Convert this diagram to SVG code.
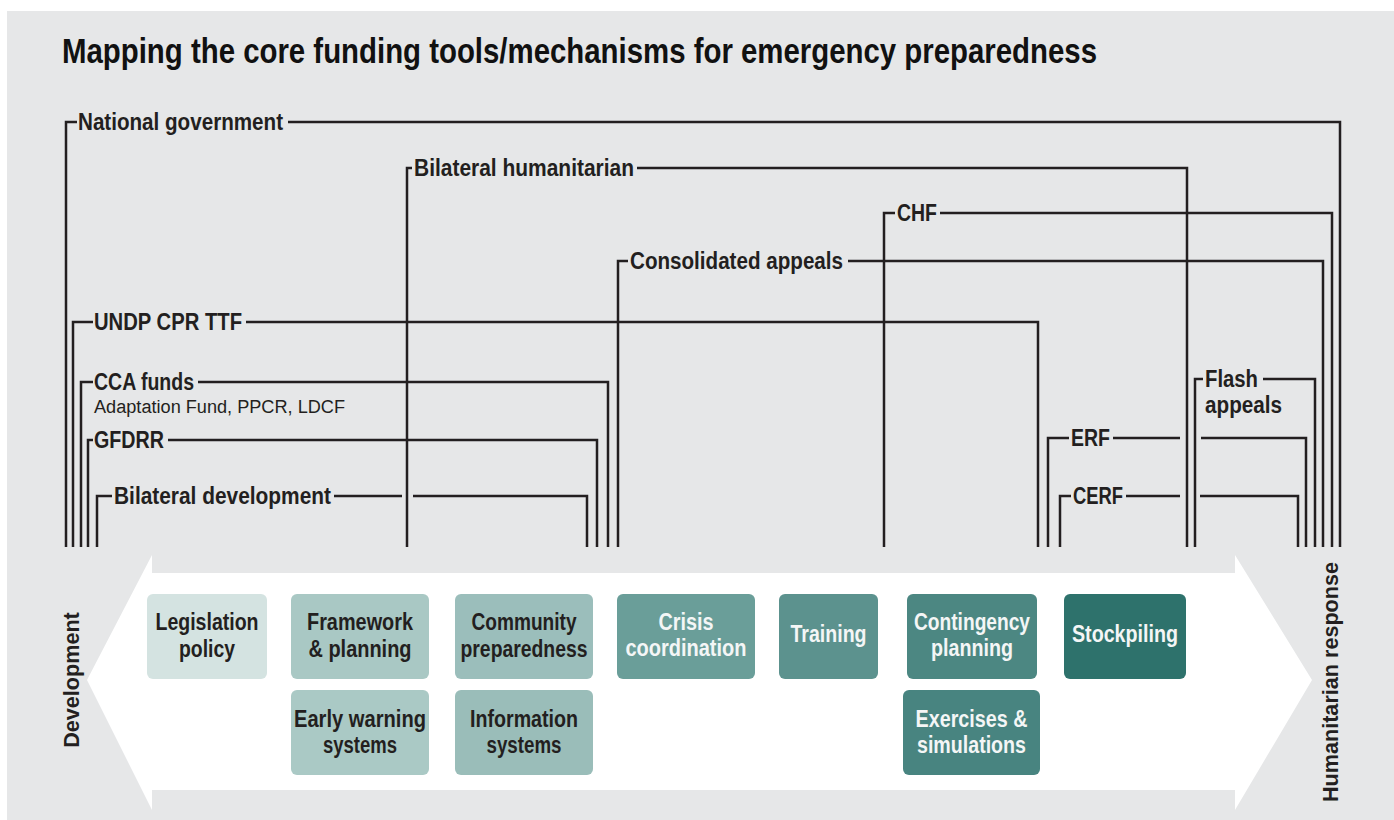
<svg xmlns="http://www.w3.org/2000/svg" width="1394" height="820" viewBox="0 0 1394 820">
  <defs>
    <style>
      .bg { fill: #e6e7e8; }
      .title { font-family: "Liberation Sans", Arial, sans-serif; font-weight: bold; font-size: 35px; fill: #111111; }
      .lbl { font-family: "Liberation Sans", Arial, sans-serif; font-weight: bold; font-size: 23px; fill: #231f20; }
      .sub { font-family: "Liberation Sans", Arial, sans-serif; font-size: 18px; fill: #231f20; }
      .axis { font-family: "Liberation Sans", Arial, sans-serif; font-weight: bold; font-size: 21.6px; fill: #231f20; text-anchor: middle; }
      .wire { fill: none; stroke: #231f20; stroke-width: 2.5; stroke-linejoin: miter; stroke-linecap: butt; }
      .box { rx: 6px; ry: 6px; }
      .bt { font-family: "Liberation Sans", Arial, sans-serif; font-weight: bold; font-size: 23px; text-anchor: middle; }
      .dark { fill: #231f20; }
      .light { fill: #f4f6f6; }
    </style>
  </defs>

  <!-- page background -->
  <rect x="0" y="0" width="1394" height="820" fill="#ffffff"/>
  <rect class="bg" x="7" y="11" width="1387" height="809"/>

  <text class="title" x="62" y="63" textLength="1035" lengthAdjust="spacingAndGlyphs">Mapping the core funding tools/mechanisms for emergency preparedness</text>

  <!-- double-headed band from development to humanitarian response -->
  <polygon fill="#ffffff" points="87,680 152,555 152,573 1235,573 1235,555 1312,680 1235,810 1235,790 152,790 152,810"/>

  <text class="axis" transform="translate(79,680) rotate(-90)">Development</text>
  <text class="axis" transform="translate(1338,682) rotate(-90)">Humanitarian response</text>

  <!-- funding mechanisms: bracket lines with their labels -->
  <g id="connectors">
    <g id="national-government">
      <path class="wire" d="M66,547 V122 H77 M288,122 H1340 V547"/>
      <text class="lbl" x="78" y="130" textLength="205" lengthAdjust="spacingAndGlyphs">National government</text>
    </g>
    <g id="bilateral-humanitarian">
      <path class="wire" d="M407,547 V168 H412 M637,168 H1187 V547"/>
      <text class="lbl" x="414" y="176" textLength="220" lengthAdjust="spacingAndGlyphs">Bilateral humanitarian</text>
    </g>
    <g id="chf">
      <path class="wire" d="M884,547 V213 H895 M940,213 H1332 V547"/>
      <text class="lbl" x="897" y="221" textLength="40" lengthAdjust="spacingAndGlyphs">CHF</text>
    </g>
    <g id="consolidated-appeals">
      <path class="wire" d="M618,547 V261 H628 M848,261 H1323 V547"/>
      <text class="lbl" x="630" y="269" textLength="213" lengthAdjust="spacingAndGlyphs">Consolidated appeals</text>
    </g>
    <g id="undp-cpr-ttf">
      <path class="wire" d="M73,547 V322 H93 M246,322 H1038 V547"/>
      <text class="lbl" x="94" y="330" textLength="148" lengthAdjust="spacingAndGlyphs">UNDP CPR TTF</text>
    </g>
    <g id="cca-funds">
      <path class="wire" d="M81,547 V382 H93 M198,382 H608 V547"/>
      <text class="lbl" x="94" y="390" textLength="100" lengthAdjust="spacingAndGlyphs">CCA funds</text>
      <text class="sub" x="94" y="413" textLength="251" lengthAdjust="spacingAndGlyphs">Adaptation Fund, PPCR, LDCF</text>
    </g>
    <g id="gfdrr">
      <path class="wire" d="M88,547 V440 H93 M168,440 H597 V547"/>
      <text class="lbl" x="94" y="448" textLength="70" lengthAdjust="spacingAndGlyphs">GFDRR</text>
    </g>
    <g id="bilateral-development">
      <path class="wire" d="M97,547 V496 H112 M334,496 H402 M413,496 H587 V547"/>
      <text class="lbl" x="114" y="504" textLength="217" lengthAdjust="spacingAndGlyphs">Bilateral development</text>
    </g>
    <g id="flash-appeals">
      <path class="wire" d="M1195,547 V379 H1203 M1263,379 H1315 V547"/>
      <text class="lbl" x="1205" y="387" textLength="53" lengthAdjust="spacingAndGlyphs">Flash</text>
      <text class="lbl" x="1205" y="413" textLength="77" lengthAdjust="spacingAndGlyphs">appeals</text>
    </g>
    <g id="erf">
      <path class="wire" d="M1048,547 V438 H1069 M1113,438 H1180 M1201,438 H1306 V547"/>
      <text class="lbl" x="1071" y="446" textLength="39" lengthAdjust="spacingAndGlyphs">ERF</text>
    </g>
    <g id="cerf">
      <path class="wire" d="M1060,547 V496 H1071 M1126,496 H1180 M1200,496 H1298 V547"/>
      <text class="lbl" x="1073" y="504" textLength="50" lengthAdjust="spacingAndGlyphs">CERF</text>
    </g>
  </g>

  <!-- preparedness activities -->
  <g id="legislation-policy">
    <rect class="box" x="147" y="594" width="120" height="85" fill="#d4e3e1"/>
    <text class="bt dark" x="207" y="630" textLength="103" lengthAdjust="spacingAndGlyphs">Legislation</text>
    <text class="bt dark" x="207" y="657" textLength="56" lengthAdjust="spacingAndGlyphs">policy</text>
  </g>
  <g id="framework-planning">
    <rect class="box" x="291" y="594" width="138" height="85" fill="#a9c8c4"/>
    <text class="bt dark" x="360" y="630" textLength="106" lengthAdjust="spacingAndGlyphs">Framework</text>
    <text class="bt dark" x="360" y="657" textLength="103" lengthAdjust="spacingAndGlyphs">&amp; planning</text>
  </g>
  <g id="community-preparedness">
    <rect class="box" x="455" y="594" width="138" height="85" fill="#9bbebb"/>
    <text class="bt dark" x="524" y="630" textLength="105" lengthAdjust="spacingAndGlyphs">Community</text>
    <text class="bt dark" x="524" y="657" textLength="127" lengthAdjust="spacingAndGlyphs">preparedness</text>
  </g>
  <g id="crisis-coordination">
    <rect class="box" x="617" y="594" width="138" height="85" fill="#6a9e99"/>
    <text class="bt light" x="686" y="630" textLength="55" lengthAdjust="spacingAndGlyphs">Crisis</text>
    <text class="bt light" x="686" y="656" textLength="121" lengthAdjust="spacingAndGlyphs">coordination</text>
  </g>
  <g id="training">
    <rect class="box" x="779" y="594" width="99" height="85" fill="#5c928e"/>
    <text class="bt light" x="828.5" y="642" textLength="76" lengthAdjust="spacingAndGlyphs">Training</text>
  </g>
  <g id="contingency-planning">
    <rect class="box" x="907" y="594" width="130" height="85" fill="#4c8782"/>
    <text class="bt light" x="972" y="630" textLength="116" lengthAdjust="spacingAndGlyphs">Contingency</text>
    <text class="bt light" x="972" y="656" textLength="82" lengthAdjust="spacingAndGlyphs">planning</text>
  </g>
  <g id="stockpiling">
    <rect class="box" x="1064" y="594" width="122" height="85" fill="#2e726c"/>
    <text class="bt light" x="1125" y="642" textLength="106" lengthAdjust="spacingAndGlyphs">Stockpiling</text>
  </g>
  <g id="early-warning-systems">
    <rect class="box" x="291" y="690" width="138" height="85" fill="#aac9c5"/>
    <text class="bt dark" x="360" y="727" textLength="132" lengthAdjust="spacingAndGlyphs">Early warning</text>
    <text class="bt dark" x="360" y="753" textLength="74" lengthAdjust="spacingAndGlyphs">systems</text>
  </g>
  <g id="information-systems">
    <rect class="box" x="455" y="690" width="138" height="85" fill="#9abdb9"/>
    <text class="bt dark" x="524" y="727" textLength="108" lengthAdjust="spacingAndGlyphs">Information</text>
    <text class="bt dark" x="524" y="753" textLength="75" lengthAdjust="spacingAndGlyphs">systems</text>
  </g>
  <g id="exercises-simulations">
    <rect class="box" x="903" y="690" width="137" height="85" fill="#488480"/>
    <text class="bt light" x="971.5" y="727" textLength="112" lengthAdjust="spacingAndGlyphs">Exercises &amp;</text>
    <text class="bt light" x="971.5" y="753" textLength="109" lengthAdjust="spacingAndGlyphs">simulations</text>
  </g>
</svg>
